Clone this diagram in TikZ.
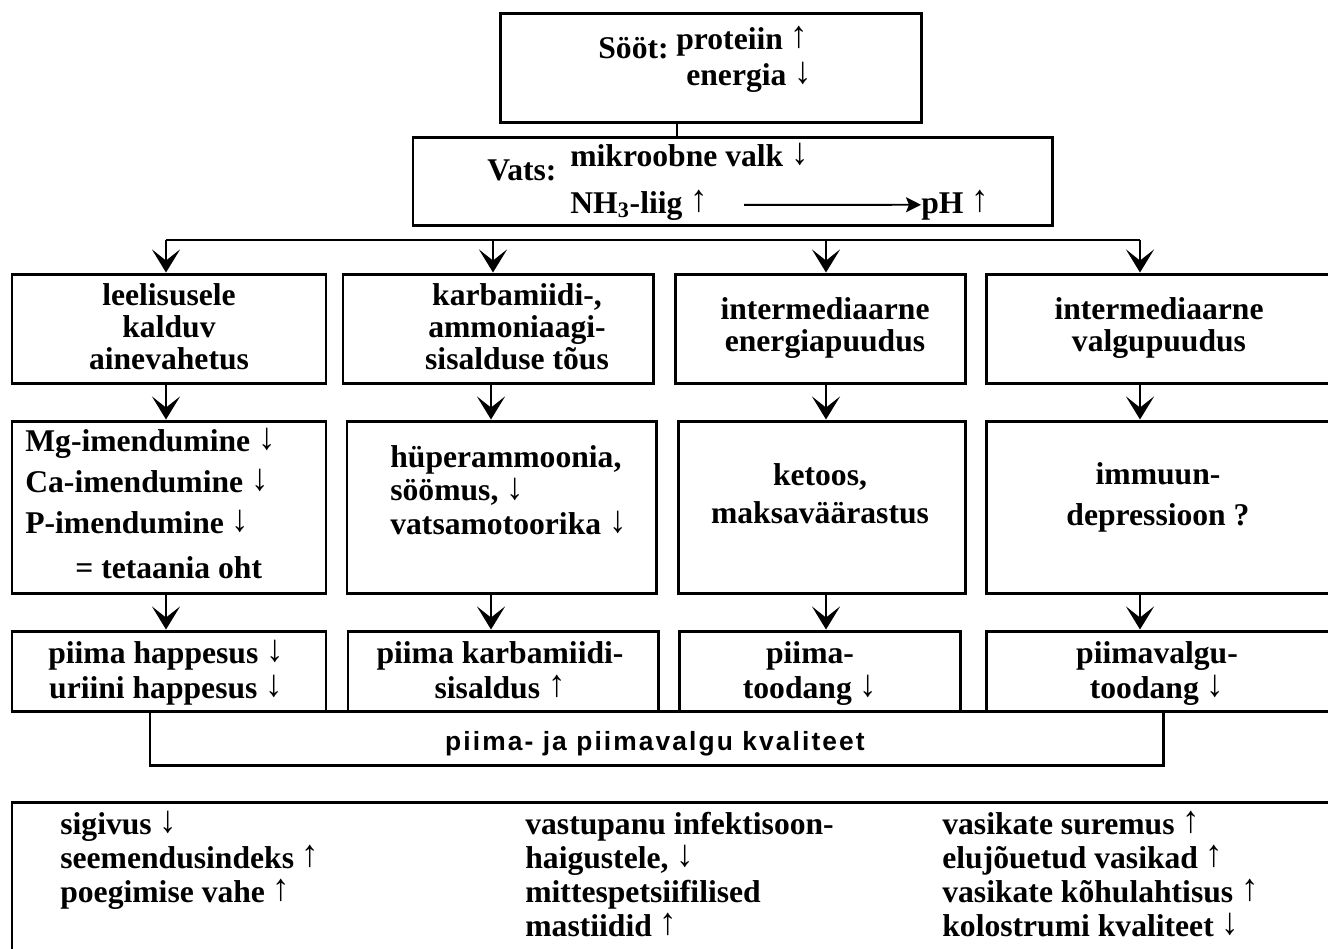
\documentclass[tikz,border=0pt]{standalone}
\usepackage{fontspec}
\setmainfont{Liberation Serif}
\newfontfamily\qualfont[LetterSpace=8]{Liberation Sans}
\usetikzlibrary{arrows.meta}
\newcommand\pxu{0.02cm}
\newcommand\upa{\raisebox{0.06em}{\scalebox{1.1}[1.2]{↑}}}
\newcommand\dna{\raisebox{0.06em}{\scalebox{1.1}[1.2]{↓}}}

\begin{document}
\begin{tikzpicture}
[x=0.02cm, y=-0.02cm,
Box/.style={draw, line width=1.7pt, inner sep=0pt},
Tag/.style={font=\fontsize{18}{#1}\selectfont\bfseries, inner sep=0pt, align=center, anchor=base},
Tag/.default=18.2pt,
TagL/.style={Tag=#1, align=left, anchor=base west},
TagL/.default=18.2pt,
Flow/.style={line width=1.6pt, -{Stealth[length=0.46cm, width=0.56cm, inset=0.22cm]}},
Thin/.style={line width=1.1pt, -{Stealth[length=0.3cm, width=0.3cm, inset=0.06cm]}}]

\useasboundingbox (0,0) rectangle (1328,948);
\clip (0,0) rectangle (1328,948);

% Sööt
\node[Box, minimum width=421*\pxu, minimum height=109*\pxu] (soot) at (710.5,67.5) {};
\node[TagL] (soot-t) at (598,58) {Sööt:};
\node[TagL] (soot-p) at (676,49) {proteiin \upa};
\node[TagL] (soot-e) at (686,85) {energia \dna};

% Vats
\node[Box, minimum width=639*\pxu, minimum height=88*\pxu] (vats) at (732.5,181) {};
\node[TagL] (vats-t) at (487,180) {Vats:};
\node[TagL] (vats-m) at (570,166) {mikroobne valk \dna};
\node[TagL] (nh) at (570,213) {NH\textsubscript{3}-liig \upa};
\node[TagL] (ph) at (921,213) {pH \upa};
\draw[Thin] ([xshift=36*\pxu]nh.east) -- (ph.west);
\draw[line width=1.1pt] (677,0 |- soot.south) -- (677,0 |- vats.north);

% esimene rida
\node[Box, minimum width=314*\pxu, minimum height=109*\pxu] (b11) at (169,328.5) {};
\node[Box, minimum width=310*\pxu, minimum height=109*\pxu] (b12) at (498,328.5) {};
\node[Box, minimum width=290*\pxu, minimum height=109*\pxu] (b13) at (820,328.5) {};
\node[Box, minimum width=374*\pxu, minimum height=109*\pxu] (b14) at (1173,328.5) {};
\node[Tag] (t11) at (169,369) {leelisusele\\kalduv\\ainevahetus};
\node[Tag] (t12) at (517,369) {karbamiidi-,\\ammoniaagi-\\sisalduse tõus};
\node[Tag] (t13) at (825,351) {intermediaarne\\energiapuudus};
\node[Tag] (t14) at (1159,351) {intermediaarne\\valgupuudus};

% teine rida
\node[Box, minimum width=314*\pxu, minimum height=172*\pxu] (b21) at (169,507) {};
\node[Box, minimum width=309*\pxu, minimum height=172*\pxu] (b22) at (501.5,507) {};
\node[Box, minimum width=287*\pxu, minimum height=172*\pxu] (b23) at (821.5,507) {};
\node[Box, minimum width=374*\pxu, minimum height=172*\pxu] (b24) at (1173,507) {};
\node[TagL=23.1pt] (t21) at (25,533) {Mg-imendumine \dna\\Ca-imendumine \dna\\P-imendumine \dna};
\node[TagL] (t21b) at (75,578) {= tetaania oht};
\node[TagL=18.8pt] (t22) at (390,534) {hüperammoonia,\\söömus, \dna\\vatsamotoorika \dna};
\node[Tag=21.6pt] (t23) at (820,523) {ketoos,\\maksaväärastus};
\node[Tag=22.8pt] (t24) at (1158,525) {immuun-\\depressioon ?};

% kolmas rida
\node[Box, minimum width=314*\pxu, minimum height=80*\pxu] (b31) at (169,671) {};
\node[Box, minimum width=310*\pxu, minimum height=80*\pxu] (b32) at (503,671) {};
\node[Box, minimum width=281*\pxu, minimum height=80*\pxu] (b33) at (819.5,671) {};
\node[Box, minimum width=374*\pxu, minimum height=80*\pxu] (b34) at (1173,671) {};
\node[Tag=19.5pt] (t31) at (166,698) {piima happesus \dna\\uriini happesus \dna};
\node[Tag=19.5pt] (t32) at (500,698) {piima karbamiidi-\\sisaldus \upa};
\node[Tag=19.5pt] (t33) at (810,698) {piima-\\toodang \dna};
\node[Tag=19.5pt] (t34) at (1157,698) {piimavalgu-\\toodang \dna};

% kvaliteet
\node[Box, minimum width=1013*\pxu, minimum height=54*\pxu] (q) at (656.5,738) {};
\node[anchor=base, inner sep=0pt, font=\qualfont\fontsize{15}{17}\selectfont\bfseries] (q-t) at (655,750) {piima- ja piimavalgu kvaliteet};

% nooled
\coordinate (bus) at (0,240);
\draw[line width=1.6pt] (166,0 |- bus) -- (1140,0 |- bus);
\foreach \cx/\n in {166/1, 493/2, 826/3, 1140/4}
  \draw[Flow] (\cx,0 |- bus) -- (\cx,0 |- b1\n.north);
\foreach \cx/\n in {166/1, 491/2, 826/3, 1140/4} {
  \draw[Flow] (\cx,0 |- b1\n.south) -- (\cx,0 |- b2\n.north);
  \draw[Flow] (\cx,0 |- b2\n.south) -- (\cx,0 |- b3\n.north);
}

% tagajärjed
\node[Box, minimum width=1348*\pxu, minimum height=188*\pxu] (bot) at (686,896) {};
\node[TagL=19.2pt] (c1) at (60,902) {sigivus \dna\\seemendusindeks \upa\\poegimise vahe \upa};
\node[TagL=19.2pt] (c2) at (525,936) {vastupanu infektisoon-\\haigustele, \dna\\mittespetsiifilised\\mastiidid \upa};
\node[TagL=19.2pt] (c3) at (942,936) {vasikate suremus \upa\\elujõuetud vasikad \upa\\vasikate kõhulahtisus \upa\\kolostrumi kvaliteet \dna};

\end{tikzpicture}
\end{document}
